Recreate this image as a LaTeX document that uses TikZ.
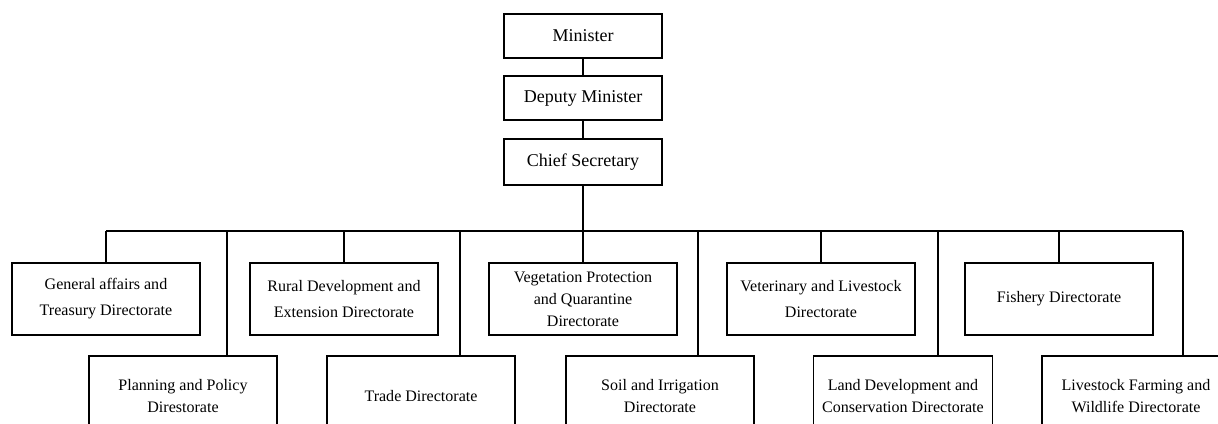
\documentclass[tikz,border=0pt]{standalone}
\usepackage{fontspec}
\setmainfont{Liberation Serif}
\usetikzlibrary{calc}

\begin{document}
\begin{tikzpicture}[
    x=0.025cm, y=-0.025cm,
    line width=1pt,
    topbox/.style={draw, minimum width=3.95cm, minimum height=1.1cm,
                   font=\fontsize{12.8}{15}\selectfont, align=center},
    dirbox/.style={draw, minimum width=4.7cm, minimum height=1.8cm,
                   font=\fontsize{11.4}{#1}\selectfont, align=center},
    dirbox/.default=16,
    lowbox/.style={dirbox, minimum height=2cm},
]
    \useasboundingbox (0,0) rectangle (1218,423);
    \clip (0,0) rectangle (1218,423);

    % Top of the ministry
    \node[topbox] (min) at (583,36) {Minister};
    \node[topbox] (dep) at (583,98) {Deputy Minister};
    \node[topbox, minimum height=1.15cm] (chief) at (583,162) {Chief Secretary};

    % Upper row of directorates
    \node[dirbox=18.5] (gen) at (106,299) {General affairs and\\Treasury Directorate};
    \node[dirbox=18.5] (rural) at (344,299) {Rural Development and\\Extension Directorate};
    \node[dirbox=15.6] (veg) at (583,299) {Vegetation Protection\\and Quarantine\\Directorate};
    \node[dirbox=18.5] (vet) at (821,299) {Veterinary and Livestock\\Directorate};
    \node[dirbox] (fish) at (1059,299) {Fishery Directorate};

    % Lower row of directorates
    \node[lowbox] (plan) at (183,396) {Planning and Policy\\Direstorate};
    \node[lowbox] (trade) at (421,396) {Trade Directorate};
    \node[lowbox] (soil) at (660,396) {Soil and Irrigation\\Directorate};
    \node[lowbox, minimum width=4.475cm] (land) at (903,396) {Land Development and\\Conservation Directorate};
    \node[lowbox] (live) at (1136,396) {Livestock Farming and\\Wildlife Directorate};

    % Bus line
    \coordinate (busL) at (106,231);
    \coordinate (busR) at (1183,231);
    \coordinate (tplan) at (227,231);
    \coordinate (ttrade) at (460,231);
    \coordinate (tsoil) at (698,231);
    \coordinate (tland) at (938,231);

    % Lines
    \draw (min) -- (dep);
    \draw (dep) -- (chief);
    \draw (chief.south) -- (chief.south |- busL);
    \draw (busL) -- (busR);
    \draw (busL) -- (gen.north);
    \draw (rural.north |- busL) -- (rural.north);
    \draw (veg.north |- busL) -- (veg.north);
    \draw (vet.north |- busL) -- (vet.north);
    \draw (fish.north |- busL) -- (fish.north);
    \draw (tplan) -- (tplan |- plan.north);
    \draw (ttrade) -- (ttrade |- trade.north);
    \draw (tsoil) -- (tsoil |- soil.north);
    \draw (tland) -- (tland |- land.north);
    \draw (busR) -- (busR |- live.north);
\end{tikzpicture}
\end{document}
